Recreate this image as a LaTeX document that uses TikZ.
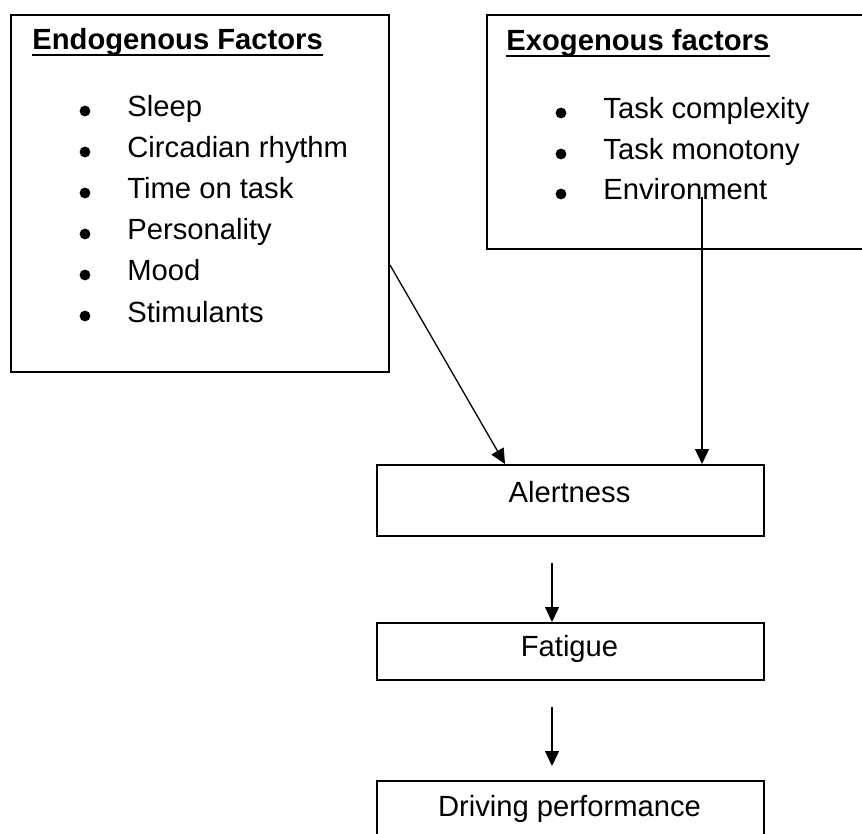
\documentclass[tikz,border=0pt]{standalone}
\usepackage{fontspec}
\setmainfont{Liberation Sans}
\usetikzlibrary{arrows.meta}
\usetikzlibrary{positioning}

\begin{document}
\begin{tikzpicture}[x=0.5pt, y=-0.5pt,
    every node/.style = {font=\fontsize{14.6}{17}\selectfont},
    box/.style = {draw, line width=1pt, inner sep=0, anchor=north west},
    head/.style = {anchor=base west, inner sep=0, font=\fontsize{14.6}{17}\selectfont\bfseries},
    item/.style = {anchor=base west, inner sep=0},
    arr/.style = {line width=0.65pt, -{Triangle[length=7.5pt,width=7pt]}}]
    \useasboundingbox (0,0) rectangle (862,834);
    \clip (0,0) rectangle (862,834);

    % factor boxes
    \node[box, minimum width=189pt, minimum height=178.5pt] (endo) at (10,14) {};
    \node[box, minimum width=197pt, minimum height=117pt] (exo) at (486,14) {};

    \node[head] (endohead) at (32,50) {Endogenous Factors};
    \node[head] (exohead) at (506,51) {Exogenous factors};
    \draw[line width=1pt] ([yshift=-2.5pt]endohead.base west) -- ([yshift=-2.5pt]endohead.base east);
    \draw[line width=1pt] ([yshift=-2.5pt]exohead.base west) -- ([yshift=-2.5pt]exohead.base east);

    \node[item] (sleep) at (127,117) {Sleep};
    \node[item] (circ) at (127,158) {Circadian rhythm};
    \node[item] (time) at (127,199) {Time on task};
    \node[item] (pers) at (127,240) {Personality};
    \node[item] (mood) at (127,281) {Mood};
    \node[item] (stim) at (127,322) {Stimulants};

    \node[item] (cplx) at (603,119) {Task complexity};
    \node[item] (mono) at (603,160) {Task monotony};
    \node[item] (env) at (603,200) {Environment};

    \foreach \n in {sleep,circ,time,pers,mood,stim,cplx,mono,env}
        \fill ([xshift=-21pt,yshift=3pt]\n.base west) circle (2.7pt);

    % chain
    \node[box, minimum width=193.5pt, minimum height=35.5pt] (alert) at (376,464) {};
    \node[box, minimum width=193.5pt, minimum height=28.5pt] (fatigue) at (376,622) {};
    \node[box, minimum width=193.5pt, minimum height=40pt] (drive) at (376,780) {};

    \node[anchor=base, inner sep=0] (alerttxt) at (569.5,502) {Alertness};
    \node[anchor=base, inner sep=0] (fatiguetxt) at (569.5,656) {Fatigue};
    \node[anchor=base, inner sep=0] (drivetxt) at (569.5,816) {Driving performance};

    \coordinate (envdrop) at (702,197);
    \coordinate (alertout) at (552,563);
    \coordinate (fatigueout) at (552,707);
    \coordinate (drivein) at (552,766);

    \draw[arr] ([yshift=-125.5pt]endo.north east) -- ([xshift=64.5pt]alert.north west);
    \draw[arr] (envdrop) -- ([xshift=163pt]alert.north west);
    \draw[arr] (alertout) -- ([xshift=88pt]fatigue.north west);
    \draw[arr] (fatigueout) -- (drivein);

\end{tikzpicture}
\end{document}
